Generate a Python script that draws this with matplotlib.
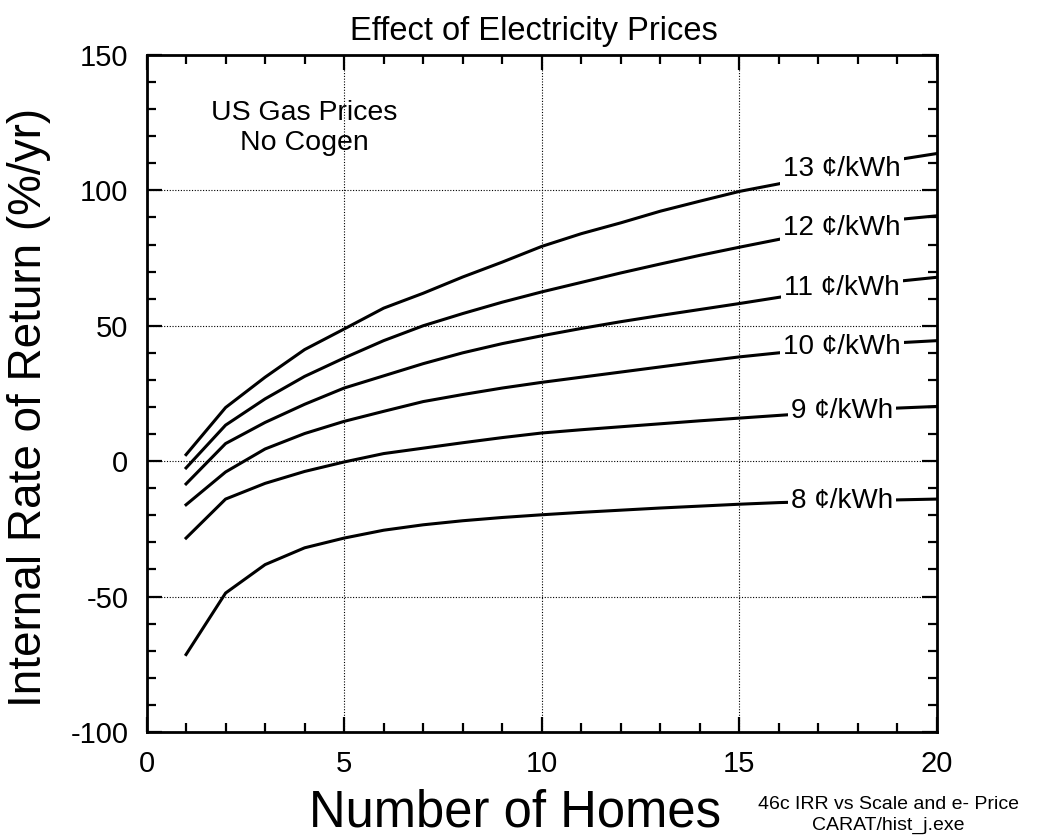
import matplotlib
matplotlib.use("Agg")
import matplotlib.pyplot as plt
import numpy as np
from matplotlib.ticker import MultipleLocator

plt.rcParams['font.family'] = ['Liberation Sans', 'DejaVu Sans']
plt.rcParams['axes.unicode_minus'] = False

# Number of homes (x) and IRR (%/yr) for each electricity price
homes = [1, 2, 3, 4, 5, 6, 7, 8, 9, 10, 11, 12, 13, 14, 15, 16, 17, 18, 19, 20]
irr_8 = [-71.4, -48.7, -38.2, -32.0, -28.4, -25.5, -23.5, -22.0, -20.8, -19.8,
         -18.9, -18.1, -17.3, -16.6, -15.9, -15.3, -14.9, -14.6, -14.3, -14.0]
irr_9 = [-28.4, -14.0, -8.2, -3.8, -0.3, 2.8, 4.8, 6.8, 8.7, 10.4,
         11.6, 12.7, 13.8, 14.9, 15.9, 16.9, 17.9, 18.8, 19.6, 20.2]
irr_10 = [-16.1, -4.0, 4.5, 10.2, 14.7, 18.4, 22.0, 24.6, 27.0, 29.1,
          31.0, 32.9, 34.8, 36.7, 38.5, 40.0, 41.4, 42.6, 43.7, 44.5]
irr_11 = [-8.4, 6.5, 14.3, 21.0, 27.0, 31.5, 36.0, 40.0, 43.4, 46.3,
          49.0, 51.5, 53.8, 56.0, 58.2, 60.5, 62.8, 64.8, 66.4, 67.9]
irr_12 = [-2.5, 13.3, 23.0, 31.3, 38.1, 44.5, 50.0, 54.5, 58.7, 62.5,
          66.0, 69.5, 72.8, 76.0, 79.0, 81.9, 84.8, 87.2, 89.2, 90.6]
irr_13 = [2.4, 19.8, 31.0, 41.2, 48.8, 56.5, 62.0, 68.0, 73.5, 79.3,
          84.0, 88.0, 92.3, 96.0, 99.6, 102.4, 106.0, 109.0, 111.3, 113.6]

series = [irr_8, irr_9, irr_10, irr_11, irr_12, irr_13]
labels = ['8 ¢/kWh', '9 ¢/kWh', '10 ¢/kWh', '11 ¢/kWh', '12 ¢/kWh', '13 ¢/kWh']

fig = plt.figure(figsize=(10.4, 8.4), dpi=100)
ax = fig.add_axes([0.1409, 0.1286, 0.760, 0.806])

label_x = 17.6
for y, lab in zip(series, labels):
    ax.plot(homes, y, color='black', linewidth=2.2, zorder=3)
    ax.text(label_x, np.interp(label_x, homes, y), lab, fontsize=20,
            ha='center', va='center', zorder=4,
            bbox=dict(boxstyle='square,pad=0.12', fc='white', ec='none'))

ax.text(4.0, 123, 'US Gas Prices\nNo Cogen', fontsize=20.5, ha='center',
        va='center', linespacing=1.23)

ax.set_xlim(0, 20)
ax.set_ylim(-100, 150)
ax.xaxis.set_major_locator(MultipleLocator(5))
ax.xaxis.set_minor_locator(MultipleLocator(1))
ax.yaxis.set_major_locator(MultipleLocator(50))
ax.yaxis.set_minor_locator(MultipleLocator(10))
ax.tick_params(which='both', direction='in', top=True, right=True,
               labelsize=21, width=1.6, color='black')
ax.tick_params(which='major', length=11, pad=13)
ax.tick_params(which='minor', length=6.5)
for s in ax.spines.values():
    s.set_linewidth(2.0)

ax.grid(True, which='major', color='black', linestyle=(0, (1, 1.5)),
        linewidth=0.8)

ax.set_xlabel('Number of Homes', fontsize=36.5)
ax.set_ylabel('Internal Rate of Return (%/yr)', fontsize=33)
ax.xaxis.set_label_coords(0.466, -0.083)
ax.yaxis.set_label_coords(-0.121, 0.48)
ax.set_title('Effect of Electricity Prices', fontsize=23.5, x=0.49, pad=11)

fig.text(0.854, 0.03, '46c IRR vs Scale and e- Price\nCARAT/hist_j.exe',
         fontsize=14, ha='center', va='center', linespacing=1.3)

fig.savefig('out.png', dpi=100)
